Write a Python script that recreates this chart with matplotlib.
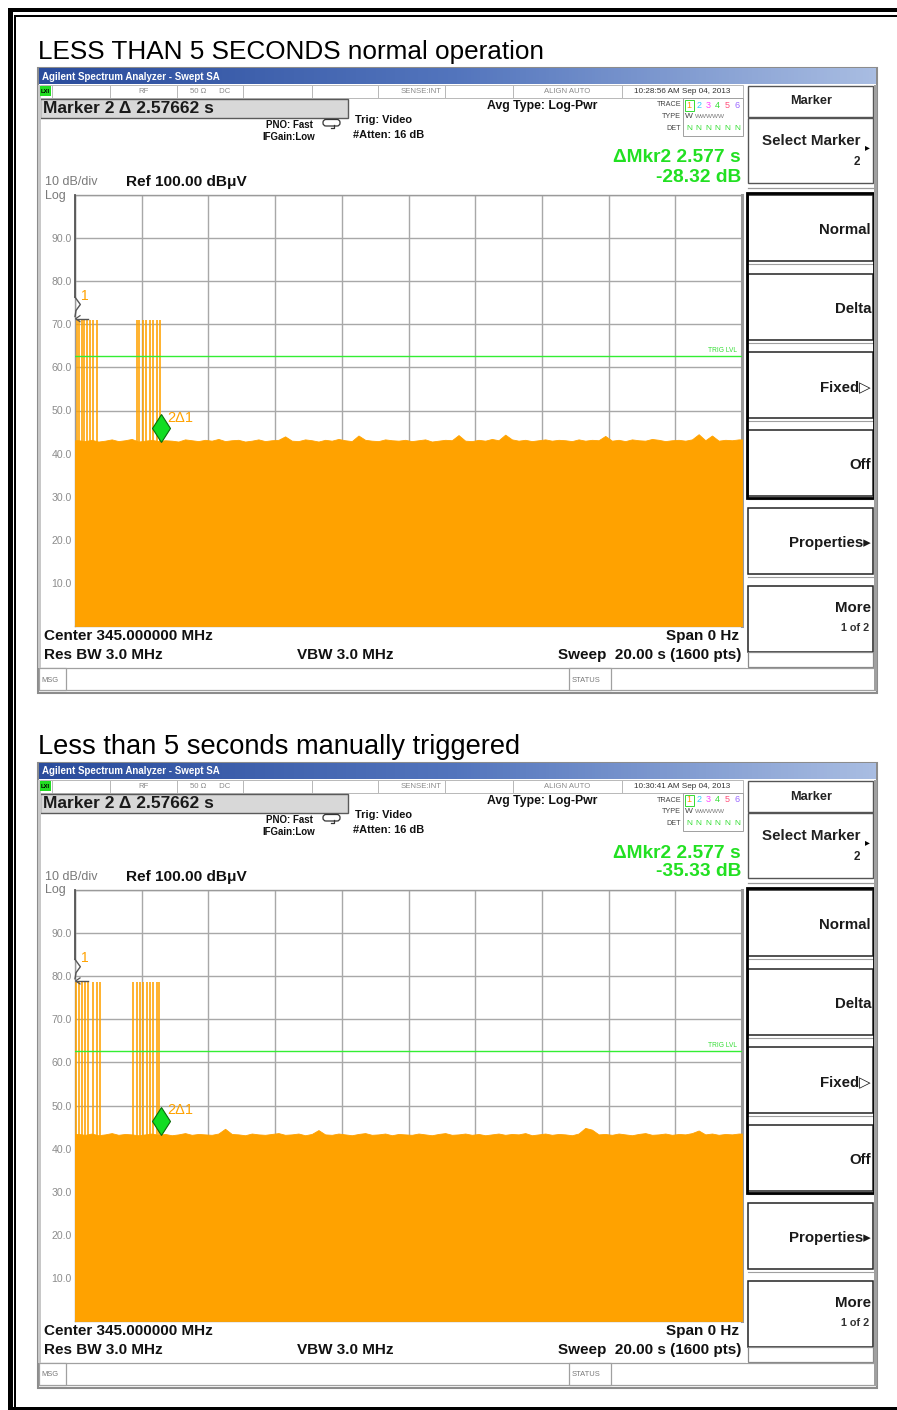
import matplotlib
matplotlib.use("Agg")
import matplotlib.pyplot as plt
from matplotlib.patches import Rectangle, FancyBboxPatch
import numpy as np

# ---------------- data ----------------
panel_titles = ["LESS THAN 5 SECONDS normal operation",
                "Less than 5 seconds manually triggered"]
timestamps = ["10:28:56 AM Sep 04, 2013", "10:30:41 AM Sep 04, 2013"]
marker_box_text = "Marker 2 \u0394 2.57662 s"
delta_mkr_time = 2.577
delta_mkr_db = [-28.32, -35.33]
sweep_time = 20.0
trig_level = [62.7, 62.7]
burst_peak = [71.0, 78.6]
burst_times_1 = [0.05, 0.12, 0.20, 0.28, 0.37, 0.45, 0.55, 0.65,
                 1.85, 1.93, 2.03, 2.13, 2.25, 2.35, 2.45, 2.55]
burst_times_2 = [0.04, 0.13, 0.22, 0.30, 0.39, 0.55, 0.65, 0.75,
                 1.75, 1.85, 1.95, 2.05, 2.15, 2.25, 2.35, 2.45, 2.53]
floor_1 = [43.1, 42.9, 43.2, 42.8, 43.0, 43.3, 42.9, 43.1, 43.4, 42.8,
           43.0, 43.2, 42.9, 43.1, 43.0, 42.8, 43.3, 43.1, 42.9, 43.2,
           43.0, 43.4, 42.9, 43.1, 43.2, 42.8, 43.0, 43.3, 42.9, 43.1,
           43.2, 44.0, 43.0, 42.9, 43.3, 43.1, 42.8, 43.2, 43.0, 43.4,
           43.1, 42.9, 44.2, 43.2, 43.0, 42.9, 43.3, 43.1, 43.0, 43.2,
           42.9, 43.1, 43.3, 42.8, 43.0, 43.2, 43.1, 44.3, 43.0, 42.9,
           43.2, 43.0, 43.4, 43.1, 44.4, 43.3, 43.0, 43.2, 42.9, 43.1,
           43.3, 43.0, 43.2, 43.1, 42.9, 43.3, 43.0, 43.2, 43.1, 44.1,
           43.0, 43.2, 42.9, 43.3, 43.1, 43.0, 43.4, 43.2, 42.9, 43.1,
           43.2, 43.0, 43.3, 44.5, 43.1, 44.2, 43.0, 43.2, 43.1, 43.3]
floor_2 = [43.4, 43.2, 43.5, 43.1, 43.3, 43.6, 43.2, 43.4, 43.3, 43.1,
           43.3, 43.5, 43.2, 43.4, 43.1, 43.3, 43.6, 43.2, 43.4, 43.3,
           43.2, 43.5, 44.6, 43.4, 43.3, 43.1, 43.5, 43.3, 43.2, 43.4,
           43.6, 43.2, 43.3, 43.5, 43.1, 43.4, 44.3, 43.3, 43.2, 43.5,
           43.3, 43.1, 43.4, 43.6, 43.2, 43.3, 43.5, 43.1, 43.4, 43.3,
           43.2, 43.5, 43.3, 43.1, 43.4, 43.6, 43.2, 43.3, 43.5, 43.2,
           43.4, 43.1, 43.3, 43.5, 43.2, 43.4, 43.3, 43.6, 43.1, 43.3,
           43.5, 43.2, 43.4, 43.3, 43.1, 43.5, 44.8, 44.4, 43.3, 43.4,
           43.2, 43.5, 43.3, 43.1, 43.4, 43.6, 43.2, 43.3, 43.5, 43.2,
           43.4, 43.3, 43.6, 44.2, 43.3, 43.5, 43.2, 43.4, 43.3, 43.5]
y_tick_vals = [0, 10, 20, 30, 40, 50, 60, 70, 80, 90, 100]
y_tick_labels = ["", "10.0", "20.0", "30.0", "40.0", "50.0", "60.0",
                 "70.0", "80.0", "90.0", ""]
x_tick_vals = [0, 2, 4, 6, 8, 10, 12, 14, 16, 18, 20]
status_cells = [("", 52, 110), ("RF", 110, 177), ("50 \u03A9      DC", 177, 243),
                ("", 243, 312), ("", 312, 378), ("SENSE:INT", 378, 445),
                ("", 445, 513), ("ALIGN AUTO", 513, 622)]
softkey_labels = ["Normal", "Delta", "Fixed\u25B7", "Off", "Properties\u25B8", "More"]
bottom_left = ["Center 345.000000 MHz", "Res BW 3.0 MHz"]
bottom_right = ["Span 0 Hz", "Sweep  20.00 s (1600 pts)"]

FAM = ["Liberation Sans", "DejaVu Sans"]
ORANGE = "#ffa200"
GREEN = "#22e022"
TITLE_SIZES = [18.8, 19.6]

W, H = 897, 1410
fig = plt.figure(figsize=(W / 100, H / 100), dpi=100)
cv = fig.add_axes([0, 0, 1, 1])
cv.set_autoscale_on(False)
cv.set_xlim(0, W)
cv.set_ylim(H, 0)
cv.axis("off")


def rect(x0, y0, x1, y1, fc="white", ec="none", lw=1.0, z=1):
    cv.add_patch(Rectangle((x0, y0), x1 - x0, y1 - y0, fc=fc, ec=ec, lw=lw, zorder=z))


def txt(x, y, s, size, color="#111111", weight="normal", ha="left", va="center", z=5):
    cv.text(x, y, s, fontsize=size, color=color, fontweight=weight, ha=ha, va=va,
            family=FAM, zorder=z)


grad = np.linspace(0, 1, 256).reshape(1, -1)
bar_cmap = matplotlib.colors.LinearSegmentedColormap.from_list(
    "bar", ["#2a4c9c", "#5375bd", "#a9bde2"])


def decorate(dy, i):
    # page title
    txt(38, 52 + dy, panel_titles[i], TITLE_SIZES[i], color="black")
    # window
    rect(38, 68 + dy, 877, 693 + dy, fc="white", ec="#8c8c8c", lw=1.5, z=1)
    cv.imshow(grad, cmap=bar_cmap, extent=[39, 876, 84.5 + dy, 69 + dy],
              aspect="auto", zorder=2)
    txt(42, 76.5 + dy, "Agilent Spectrum Analyzer - Swept SA", 7.0, color="white", weight="bold")
    # status row
    rect(38.5, 85 + dy, 52, 98 + dy, fc="white", ec="#b8b8b8", lw=0.7, z=2)
    rect(40, 86 + dy, 50.5, 96 + dy, fc="#22dd22", z=3)
    txt(45.2, 91.2 + dy, "LXI", 4.2, color="black", weight="bold", ha="center")
    for label, x0, x1 in status_cells:
        rect(x0, 85 + dy, x1, 98 + dy, fc="white", ec="#b8b8b8", lw=0.7, z=2)
        if label:
            txt((x0 + x1) / 2 + (10 if label == "SENSE:INT" else 0), 91.5 + dy, label, 5.6,
                color="#8a8a8a", ha="center")
    rect(622, 85 + dy, 743, 98 + dy, fc="white", ec="#b8b8b8", lw=0.7, z=2)
    txt(682, 91.5 + dy, timestamps[i], 5.9, color="#333333", ha="center")
    # marker readout box
    rect(40, 99 + dy, 348, 118 + dy, fc="#d8d8d8", ec="#5a5a5a", lw=1.0, z=2)
    txt(43, 108.8 + dy, marker_box_text, 12.5, color="#1a1a1a", weight="bold")
    txt(289, 125 + dy, "PNO: Fast", 7.0, weight="bold", ha="center")
    txt(289, 137 + dy, "IFGain:Low", 7.0, weight="bold", ha="center")
    cv.add_patch(FancyBboxPatch((323, 119.5 + dy), 17, 6.5,
                                boxstyle="round,pad=0,rounding_size=3",
                                fc="white", ec="#333333", lw=0.9, zorder=3))
    cv.plot([331, 334, 334], [127.5 + dy, 127.5 + dy, 125 + dy], color="#333333", lw=0.9, zorder=4)
    txt(355, 120 + dy, "Trig: Video", 7.9, weight="bold")
    txt(353, 135 + dy, "#Atten: 16 dB", 7.9, weight="bold")
    txt(487, 106 + dy, "Avg Type: Log-Pwr", 8.8, weight="bold")
    # trace box
    rect(683, 98 + dy, 743, 136 + dy, fc="white", ec="#a0a0a0", lw=0.7, z=2)
    txt(681, 105 + dy, "TRACE", 5.2, color="#444444", ha="right")
    txt(681, 116.5 + dy, "TYPE", 5.2, color="#444444", ha="right")
    txt(681, 128.5 + dy, "DET", 5.2, color="#444444", ha="right")
    trace_cols = ["#ff9a00", "#33ccff", "#ff44ff", "#33dd33", "#ff4f7a", "#9a66ff"]
    for k, c in enumerate(trace_cols):
        txt(689 + k * 9.6, 105 + dy, str(k + 1), 6.5, color=c, ha="center")
        txt(689 + k * 9.6, 128.5 + dy, "N", 6.0, color="#33dd33", ha="center")
    rect(684.5, 99.5 + dy, 693.5, 110.5 + dy, fc="none", ec="#33dd33", lw=0.7, z=4)
    txt(685, 116.5 + dy, "W", 6.0, color="#444444")
    txt(695, 116.5 + dy, "WWWWW", 4.6, color="#777777")
    # delta marker readout
    txt(741, 158 + dy, "\u0394Mkr2 %.3f s" % delta_mkr_time, 13.8, color=GREEN, weight="bold", ha="right")
    txt(741, 177 + dy, "%.2f dB" % delta_mkr_db[i], 13.8, color=GREEN, weight="bold", ha="right")
    txt(45, 182 + dy, "10 dB/div", 9.0, color="#7a7a7a")
    txt(45, 195.5 + dy, "Log", 9.0, color="#7a7a7a")
    txt(126, 182 + dy, "Ref 100.00 dB\u03BCV", 11.1, color="#111111", weight="bold")
    # bottom annotations
    txt(44, 636 + dy, bottom_left[0], 11.0, weight="bold")
    txt(44, 655 + dy, bottom_left[1], 11.0, weight="bold")
    txt(297, 655 + dy, "VBW 3.0 MHz", 11.0, weight="bold")
    txt(739, 636 + dy, bottom_right[0], 11.0, weight="bold", ha="right")
    txt(741, 655 + dy, bottom_right[1], 11.0, weight="bold", ha="right")
    # msg bar
    rect(38.5, 668 + dy, 876, 690 + dy, fc="white", ec="#a0a0a0", lw=0.9, z=2)
    rect(38.5, 668 + dy, 66, 690 + dy, fc="white", ec="#a0a0a0", lw=0.9, z=2)
    rect(569, 668 + dy, 611, 690 + dy, fc="white", ec="#a0a0a0", lw=0.9, z=2)
    txt(41, 680 + dy, "MSG", 5.4, color="#777777")
    txt(572, 680 + dy, "STATUS", 5.4, color="#777777")
    # softkeys
    rect(746, 85 + dy, 873, 668 + dy, fc="white", ec="none", z=2)
    rect(747.5, 86 + dy, 872.5, 117 + dy, fc="white", ec="#555555", lw=1.0, z=3)
    txt(811, 101.5 + dy, "Marker", 9.2, weight="bold", ha="center", color="#222222")
    rect(747.5, 118 + dy, 872.5, 183 + dy, fc="white", ec="#555555", lw=1.0, z=3)
    txt(861, 141 + dy, "Select Marker", 10.9, weight="bold", ha="right", color="#222222")
    txt(867.5, 147 + dy, "\u25B8", 7, ha="center", color="black")
    txt(860, 162 + dy, "2", 8.5, weight="bold", ha="right", color="#222222")
    cv.plot([747.5, 872.5], [187.5 + dy, 187.5 + dy], color="#9a9a9a", lw=0.9, zorder=3)
    tops = [195, 274, 352, 430, 508, 586]
    for k, t in enumerate(tops):
        rect(748, t + dy, 873, t + 66 + dy, fc="white", ec="#222222", lw=1.1, z=3)
        cv.plot([748, 873], [t + 68.5 + dy, t + 68.5 + dy], color="#a0a0a0", lw=0.8, zorder=3)
        if k < 5:
            txt(871, t + 35 + dy, softkey_labels[k], 10.8, weight="bold", ha="right", color="#1a1a1a")
        else:
            txt(871, t + 22 + dy, softkey_labels[k], 10.8, weight="bold", ha="right", color="#1a1a1a")
            txt(869, t + 42 + dy, "1 of 2", 7.8, weight="bold", ha="right", color="#333333")
    rect(747, 193 + dy, 873.5, 497.5 + dy, fc="none", ec="black", lw=2.0, z=4)
    rect(748, 652 + dy, 873, 667 + dy, fc="white", ec="#8a8a8a", lw=0.9, z=3)
    rect(873.5, 85 + dy, 877, 690 + dy, fc="#a0a0a0", z=4)
    rect(38, 85 + dy, 41, 668 + dy, fc="#c8c8c8", z=2)


def plot_panel(dy, floor, bursts, peak, dmk, trig):
    x0, x1, ytop, ybot = 75, 742, 195 + dy, 626 + dy
    ax = fig.add_axes([x0 / W, 1 - ybot / H, (x1 - x0) / W, (ybot - ytop) / H])
    ax.set_facecolor("white")
    ax.set_xlim(0, sweep_time)
    ax.set_ylim(0, 100)
    ax.set_xticks(x_tick_vals)
    ax.set_xticklabels([])
    ax.set_yticks(y_tick_vals)
    ax.set_yticklabels(y_tick_labels, family=FAM)
    ax.tick_params(axis="both", length=0)
    ax.tick_params(axis="y", pad=2.2, labelsize=7.6, labelcolor="#8c8c8c")
    ax.grid(True, color="#a8a8a8", lw=1.0)
    ax.set_axisbelow(True)
    for s in ax.spines.values():
        s.set_color("#9a9a9a")
        s.set_linewidth(1.0)
    ax.spines["right"].set_linewidth(2.2)
    t = (np.arange(len(floor)) + 0.5) * sweep_time / len(floor)
    t = np.concatenate([[0.0], t, [sweep_time]])
    f = np.concatenate([[floor[0]], floor, [floor[-1]]])
    ax.fill_between(t, 0, f, color=ORANGE, lw=0.6, edgecolor=ORANGE, zorder=3)
    ax.vlines(bursts, 0, peak, color=ORANGE, lw=1.15, zorder=3)
    ax.axhline(trig, color="#33ee33", lw=1.0, zorder=4)
    ax.text(19.85, trig + 0.4, "TRIG LVL", fontsize=4.8, color="#33dd33",
            ha="right", va="bottom", family=FAM, zorder=5)
    # marker 1 glyph
    ax.plot([0, 0], [100, peak + 5.3], color="#555555", lw=1.3, zorder=5, clip_on=False)
    ax.plot([0, 0.16, 0.03, 0.0], [peak + 5.3, peak + 3.6, peak + 2.2, peak + 0.8],
            color="#555555", lw=1.0, zorder=5, clip_on=False)
    ax.plot([0.02, 0.4], [peak + 0.3, peak + 0.3], color="#555555", lw=1.0, zorder=5)
    ax.plot([0.15, 0.02, 0.15], [peak + 1.0, peak + 0.3, peak - 0.4], color="#555555", lw=0.9, zorder=5)
    ax.text(0.3, peak + 5.6, "1", fontsize=10, color=ORANGE, ha="center", va="center",
            family=FAM, zorder=6)
    # marker 2 diamond
    m2 = peak + dmk
    ax.plot([delta_mkr_time], [m2 + 3.2], marker="d", markersize=14.5,
            markerfacecolor="#11dd22", markeredgecolor="#0a6a0a", markeredgewidth=0.8, zorder=7)
    ax.text(delta_mkr_time + 0.18, m2 + 5.6, "2\u03941", fontsize=10.5, color=ORANGE,
            ha="left", va="center", family=FAM, zorder=6)
    return ax


decorate(0, 0)
decorate(695, 1)
plot_panel(0, floor_1, burst_times_1, burst_peak[0], delta_mkr_db[0], trig_level[0])
plot_panel(695, floor_2, burst_times_2, burst_peak[1], delta_mkr_db[1], trig_level[1])

# outer frame
rect(8, 8, 897, 12.3, fc="black", z=10)
rect(14.5, 15, 897, 16.7, fc="black", z=10)
rect(8, 8, 12.6, 1410, fc="black", z=10)
rect(14.2, 15, 16.0, 1410, fc="black", z=10)
rect(8, 1406.8, 897, 1410, fc="black", z=10)

cv.set_xlim(0, W)
cv.set_ylim(H, 0)
fig.savefig("out.png", dpi=100)
